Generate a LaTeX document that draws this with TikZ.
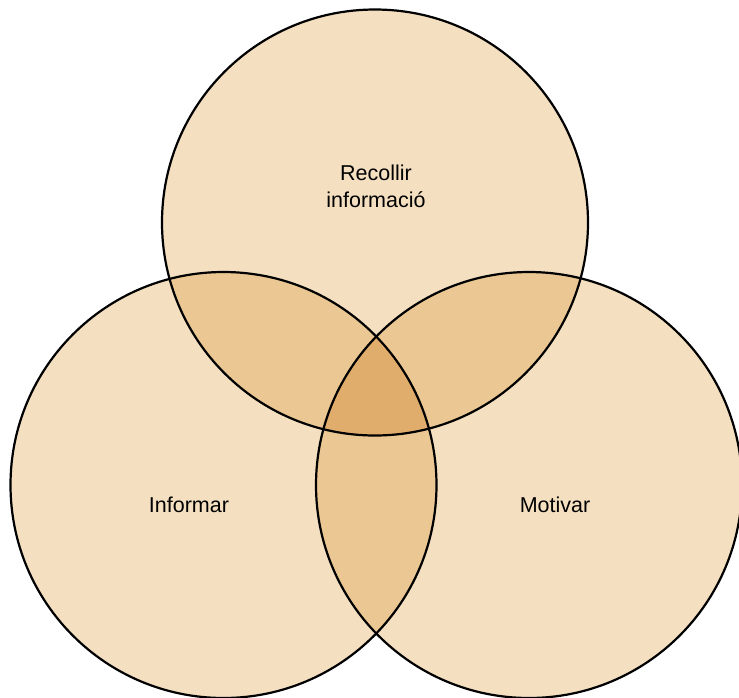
\documentclass[tikz,border=0pt]{standalone}
\usepackage{fontspec}
\setmainfont{Liberation Sans}
\definecolor{vennone}{HTML}{F4E0C1}
\definecolor{venntwo}{HTML}{EBC793}
\definecolor{vennthree}{HTML}{E1AD6C}
\begin{document}
\begin{tikzpicture}[x=1pt,y=-1pt,
  ring/.style={draw=black,line width=2.2pt},
  label/.style={font=\fontsize{21.5}{27}\selectfont,align=center,text=black}]
\useasboundingbox (0,0) rectangle (739,697);
\def\R{213pt}
\coordinate (ctop) at (375,222.5);
\coordinate (cleft) at (223.5,485);
\coordinate (cright) at (529,485);
% single fills
\fill[vennone] (ctop) circle[radius=\R];
\fill[vennone] (cleft) circle[radius=\R];
\fill[vennone] (cright) circle[radius=\R];
% pairwise overlaps
\begin{scope}
  \clip (ctop) circle[radius=\R];
  \fill[venntwo] (cleft) circle[radius=\R];
  \fill[venntwo] (cright) circle[radius=\R];
\end{scope}
\begin{scope}
  \clip (cleft) circle[radius=\R];
  \fill[venntwo] (cright) circle[radius=\R];
\end{scope}
% triple overlap
\begin{scope}
  \clip (ctop) circle[radius=\R];
  \clip (cleft) circle[radius=\R];
  \fill[vennthree] (cright) circle[radius=\R];
\end{scope}
% outlines
\draw[ring] (ctop) circle[radius=\R];
\draw[ring] (cleft) circle[radius=\R];
\draw[ring] (cright) circle[radius=\R];
% labels
\node[label] (recollir) at (376,186) {Recollir\\informació};
\node[label] (informar) at (189,505) {Informar};
\node[label] (motivar) at (555,505) {Motivar};
\end{tikzpicture}
\end{document}
